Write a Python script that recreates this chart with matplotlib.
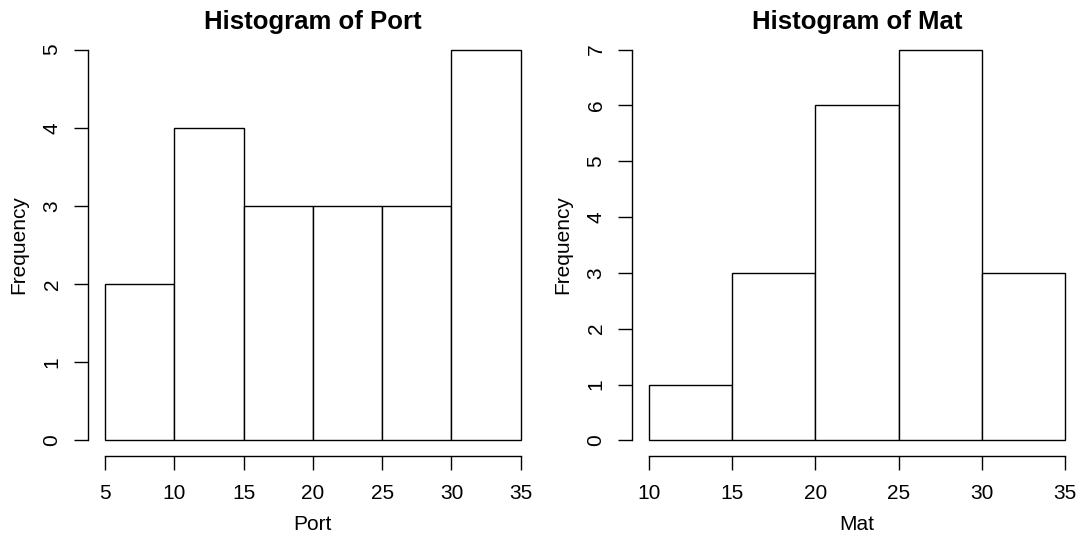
import matplotlib
matplotlib.use("Agg")
import matplotlib.pyplot as plt
import numpy as np

plt.rcParams['font.family'] = ['Liberation Sans', 'DejaVu Sans']

# Bin edges and counts for each histogram
port_edges = [5, 10, 15, 20, 25, 30, 35]
port_counts = [2, 4, 3, 3, 3, 5]
port_yticks = [0, 1, 2, 3, 4, 5]

mat_edges = [10, 15, 20, 25, 30, 35]
mat_counts = [1, 3, 6, 7, 3]
mat_yticks = [0, 1, 2, 3, 4, 5, 6, 7]

W, H = 1083, 543
fig = plt.figure(figsize=(W / 100, H / 100), dpi=100)


def r_hist(rect, edges, counts, yticks, title, xlabel):
    ax = fig.add_axes(rect)
    edges = np.asarray(edges, dtype=float)
    counts = np.asarray(counts, dtype=float)
    ax.bar(edges[:-1], counts, width=np.diff(edges), align='edge',
           facecolor='white', edgecolor='black', linewidth=1.0)
    # base-graphics style 4% padding around the data range
    xr = edges[-1] - edges[0]
    ymax = yticks[-1]
    ax.set_xlim(edges[0] - 0.04 * xr, edges[-1] + 0.04 * xr)
    ax.set_ylim(-0.04 * ymax, ymax * 1.04)
    for s in ('top', 'right'):
        ax.spines[s].set_visible(False)
    ax.spines['left'].set_bounds(yticks[0], yticks[-1])
    ax.spines['bottom'].set_bounds(edges[0], edges[-1])
    for s in ('left', 'bottom'):
        ax.spines[s].set_linewidth(1.0)
    ax.set_xticks(edges)
    ax.set_xticklabels([f"{int(v)}" for v in edges])
    ax.set_yticks(yticks)
    ax.set_yticklabels([str(v) for v in yticks], rotation=90, va='center')
    ax.tick_params(axis='both', length=10, width=1.0, labelsize=15, color='black')
    ax.tick_params(axis='x', pad=10)
    ax.tick_params(axis='y', pad=9.3)
    ax.set_title(title, fontsize=18.5, fontweight='bold', pad=2.5)
    ax.set_xlabel(xlabel, fontsize=15, labelpad=8.6)
    ax.set_ylabel('Frequency', fontsize=15, labelpad=10)
    return ax


bottom = (H - 456) / H
height = (456 - 34) / H
r_hist([88.4 / W, bottom, 449 / W, height], port_edges, port_counts, port_yticks,
       'Histogram of Port', 'Port')
r_hist([632.4 / W, bottom, 449.2 / W, height], mat_edges, mat_counts, mat_yticks,
       'Histogram of Mat', 'Mat')

fig.savefig('out.png', dpi=100, facecolor='white')
